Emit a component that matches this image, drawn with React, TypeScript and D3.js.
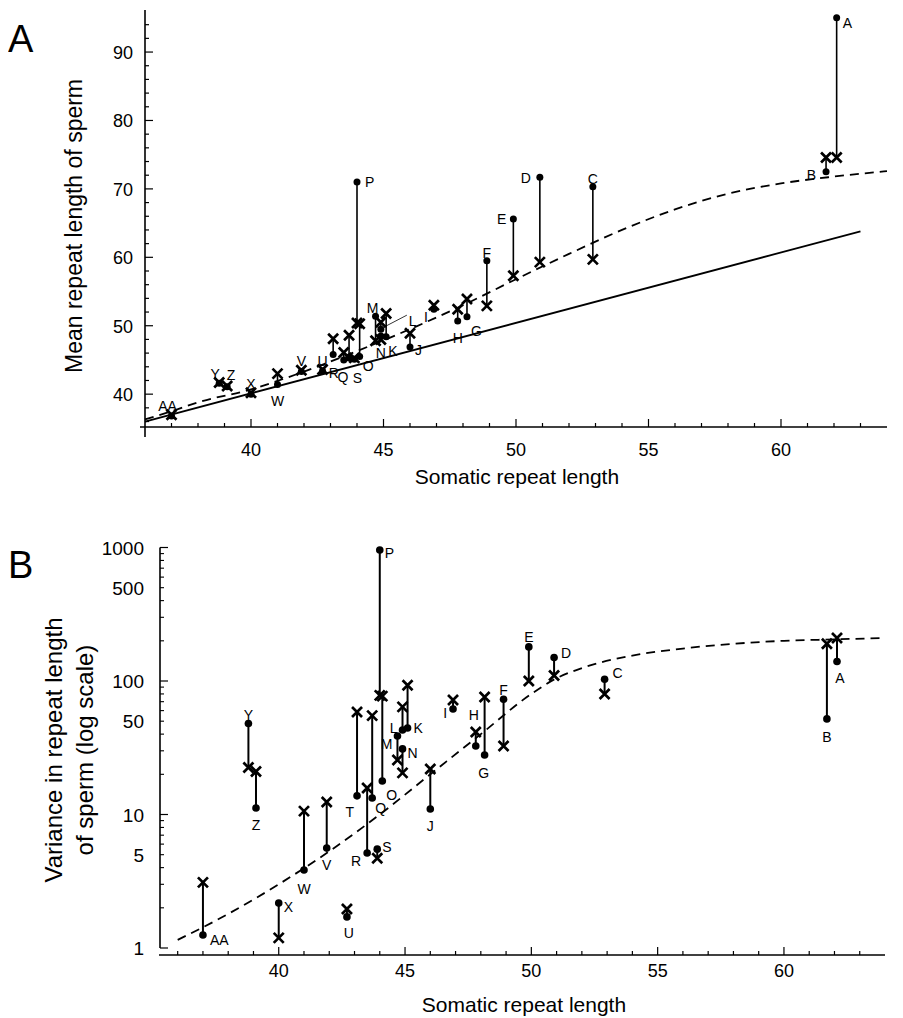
import React from 'react';
import * as d3 from 'd3';

// subject codes, same order in both panels
const subjects = ['A', 'B', 'C', 'D', 'E', 'F', 'G', 'H', 'I', 'J', 'K', 'L', 'M', 'N', 'O', 'P', 'Q', 'R', 'S', 'T', 'U', 'V', 'W', 'X', 'Y', 'Z', 'AA'];
const somatic = [62.1, 61.7, 52.9, 50.9, 49.9, 48.9, 48.15, 47.8, 46.9, 46.0, 45.1, 44.9, 44.7, 44.9, 44.1, 44.0, 43.7, 43.5, 43.9, 43.1, 42.7, 41.9, 41.0, 40.0, 38.8, 39.1, 37.0];

// panel A: mean repeat length of sperm (dot = observed, cross = predicted)
const meanObserved = [95.0, 72.5, 70.3, 71.7, 65.6, 59.5, 51.3, 50.7, 52.4, 46.9, 48.4, 49.5, 51.4, 48.5, 45.5, 71.0, 45.3, 45.0, 45.1, 45.8, 43.4, 43.3, 41.4, 40.0, 41.6, 41.1, 36.8];
const meanPredicted = [74.6, 74.6, 59.7, 59.3, 57.3, 52.9, 53.9, 52.4, 53.0, 48.9, 51.8, 50.5, 47.8, 48.0, 50.3, 50.4, 48.6, 46.1, 45.3, 48.1, 43.6, 43.5, 43.0, 40.2, 41.7, 41.2, 37.0];

// panel B: variance of sperm repeat length
const varObserved = [140, 52, 103, 150, 180, 73, 27.9, 32.6, 61.7, 11, 44.5, 43, 38.7, 31, 17.8, 958, 13.3, 5.15, 5.5, 13.8, 1.71, 5.6, 3.84, 2.17, 48, 11.2, 1.25];
const varPredicted = [210, 190, 80, 110, 100, 32.6, 75.9, 41.5, 72, 21.9, 93, 64, 25.6, 20.5, 77, 78, 55, 15.8, 4.7, 58.6, 1.96, 12.4, 10.6, 1.19, 22.5, 21, 3.1];

// model curves
const curveAx = [36, 37, 38, 40, 42, 44, 46, 48, 50, 52, 54, 56, 58, 60, 62, 64];
const curveAy = [36.3, 37.5, 38.8, 40.7, 43.3, 46.3, 49.5, 53.0, 56.8, 60.5, 64.0, 67.0, 69.3, 70.8, 71.8, 72.6];
const curveBx = [36, 38, 40, 42, 44, 46, 48, 50, 51, 52, 54, 56, 58, 60, 62, 64];
const curveBy = [1.15, 1.8, 3.0, 5.3, 10, 20, 40, 80, 105, 125, 155, 175, 190, 200, 205, 210];

const xTicksMajor = [40, 45, 50, 55, 60];
const yTicksA = [40, 50, 60, 70, 80, 90];
const yTicksB = [1, 5, 10, 50, 100, 500, 1000];

type Lab = [number, number, string];
const labelsA: Record<string, Lab> = {
  A: [6, 5, 'start'], B: [-10, 3, 'end'], C: [0, -8, 'middle'], D: [-9, 1, 'end'], E: [-7, 0, 'end'],
  F: [0, -8, 'middle'], G: [4, 14, 'start'], H: [0, 17, 'middle'], I: [-6, 8, 'end'], J: [5, 3, 'start'],
  K: [2, 14, 'start'], L: [28, -8, 'start'], M: [-3, -8, 'middle'], N: [0, 17, 'middle'], O: [3, 9, 'start'],
  P: [8, 0, 'start'], Q: [-6, 19, 'middle'], R: [-10, 13, 'middle'], S: [3, 19, 'middle'],
  U: [0, -10, 'middle'], V: [0, -11, 'middle'], W: [0, 16, 'middle'], X: [0, -10, 'middle'],
  Y: [-4, -9, 'middle'], Z: [4, -12, 'middle'], AA: [-4, -10, 'middle'],
};
const labelsB: Record<string, Lab> = {
  A: [3, 17, 'middle'], B: [0, 18, 'middle'], C: [8, -6, 'start'], D: [7, -4, 'start'], E: [0, -10, 'middle'],
  F: [0, -9, 'middle'], G: [-1, 18, 'middle'], H: [-2, -31, 'middle'], I: [-6, 4, 'end'], J: [0, 17, 'middle'],
  K: [6, 0, 'start'], L: [-5, -2, 'end'], M: [-5, 8, 'end'], N: [5, 4, 'start'], O: [4, 14, 'start'],
  P: [5, 3, 'start'], Q: [3, 10, 'start'], R: [-6, 8, 'end'], S: [5, -2, 'start'], T: [-3, 16, 'end'],
  U: [2, 16, 'middle'], V: [0, 17, 'middle'], W: [0, 19, 'middle'], X: [5, 4, 'start'], Y: [0, -9, 'middle'],
  Z: [0, 17, 'middle'], AA: [7, 5, 'start'],
};

const font = '"Liberation Sans", Arial, Helvetica, sans-serif';

const Cross = ({ x, y }: { x: number; y: number }) => (
  <path d={`M${x - 5},${y - 5}L${x + 5},${y + 5}M${x - 5},${y + 5}L${x + 5},${y - 5}`} stroke="#000" strokeWidth={2.7} />
);

export default function App() {
  // panel A scales
  const xA = d3.scaleLinear().domain([36, 64]).range([145, 887]);
  const yA = d3.scaleLinear().domain([35.2, 96]).range([427, 11]);
  // panel B scales
  const xB = d3.scaleLinear().domain([35.3, 64]).range([160, 885]);
  const yB = d3.scaleLog().domain([1, 1000]).range([948, 547.5]);

  const lineA = d3.line<number>().x((d, i) => xA(curveAx[i])).y(d => yA(d)).curve(d3.curveMonotoneX);
  const lineB = d3.line<number>().x((d, i) => xB(curveBx[i])).y(d => yB(d)).curve(d3.curveMonotoneX);

  const intTicksA = d3.range(37, 64);
  const intTicksB = d3.range(36, 64);
  const minorA = d3.range(36, 96, 2).filter(v => v > 35.2);
  const minorB: number[] = [];
  [1, 10, 100].forEach(dec => d3.range(2, 10).forEach(m => minorB.push(dec * m)));

  return (
    <svg width={887} height={1018} style={{ display: 'block', margin: '-8px 0 0 -8px', background: '#fff' }} fontFamily={font}>
      {/* ---------- Panel A ---------- */}
      <text x={8} y={52} fontSize={38}>A</text>
      <line x1={145} x2={145} y1={10} y2={437} stroke="#000" strokeWidth={1.6} />
      <line x1={140} x2={887} y1={427} y2={427} stroke="#000" strokeWidth={1.6} />
      {intTicksA.map(v => (
        <line key={v} x1={xA(v)} x2={xA(v)} y1={427} y2={427 - (v % 5 === 0 ? 8 : 4)} stroke="#000" strokeWidth={1.2} />
      ))}
      {minorA.map(v => (
        <line key={v} x1={145} x2={145 + (v % 10 === 0 ? 8 : 4)} y1={yA(v)} y2={yA(v)} stroke="#000" strokeWidth={1.2} />
      ))}
      {xTicksMajor.map(v => (
        <text key={v} x={xA(v)} y={456} fontSize={18} textAnchor="middle">{v}</text>
      ))}
      {yTicksA.map(v => (
        <text key={v} x={133} y={yA(v) + 7} fontSize={18} textAnchor="end">{v}</text>
      ))}
      <text x={517} y={484} fontSize={21} textAnchor="middle">Somatic repeat length</text>
      <text transform="translate(82,226) rotate(-90)" fontSize={23} textAnchor="middle">Mean repeat length of sperm</text>

      {/* identity line and model */}
      <line x1={xA(36)} y1={yA(36)} x2={xA(63)} y2={yA(63.8)} stroke="#000" strokeWidth={1.8} />
      <path d={lineA(curveAy) ?? ''} fill="none" stroke="#000" strokeWidth={1.8} strokeDasharray="9,6" />

      {subjects.map((s, i) => {
        const cx = xA(somatic[i]);
        const yo = yA(meanObserved[i]);
        const yp = yA(meanPredicted[i]);
        const lab = labelsA[s];
        return (
          <g key={s}>
            <line x1={cx} x2={cx} y1={yo} y2={yp} stroke="#000" strokeWidth={1.6} />
            <circle cx={cx} cy={yo} r={3.5} fill="#000" />
            <Cross x={cx} y={yp} />
            {lab && <text x={cx + lab[0]} y={yo + lab[1] + 5} fontSize={14} textAnchor={lab[2] as any}>{s}</text>}
            {s === 'L' && <line x1={cx + 3} y1={yo - 2} x2={cx + 26} y2={yo - 14} stroke="#000" strokeWidth={0.8} />}
          </g>
        );
      })}

      {/* ---------- Panel B ---------- */}
      <text x={8} y={578} fontSize={38}>B</text>
      <line x1={160} x2={160} y1={yB(1000)} y2={yB(1)} stroke="#000" strokeWidth={1.6} />
      <line x1={159} x2={885} y1={955} y2={955} stroke="#000" strokeWidth={1.6} />
      {intTicksB.map(v => (
        <line key={v} x1={xB(v)} x2={xB(v)} y1={955} y2={955 - (v % 5 === 0 ? 8 : 4)} stroke="#000" strokeWidth={1.2} />
      ))}
      {minorB.map(v => (
        <line key={v} x1={160} x2={164} y1={yB(v)} y2={yB(v)} stroke="#000" strokeWidth={1.1} />
      ))}
      {[1, 10, 100, 1000].map(v => (
        <line key={v} x1={160} x2={168} y1={yB(v)} y2={yB(v)} stroke="#000" strokeWidth={1.2} />
      ))}
      {xTicksMajor.map(v => (
        <text key={v} x={xB(v)} y={977} fontSize={18} textAnchor="middle">{v}</text>
      ))}
      {yTicksB.map(v => (
        <text key={v} x={144} y={yB(v) + 7} fontSize={19} textAnchor="end">{v}</text>
      ))}
      <text x={524} y={1012} fontSize={21} textAnchor="middle">Somatic repeat length</text>
      <text transform="translate(62,750) rotate(-90)" fontSize={24} textAnchor="middle">Variance in repeat length</text>
      <text transform="translate(93,750) rotate(-90)" fontSize={24} textAnchor="middle">of sperm (log scale)</text>

      <path d={lineB(curveBy) ?? ''} fill="none" stroke="#000" strokeWidth={1.8} strokeDasharray="9,6" />

      {subjects.map((s, i) => {
        const cx = xB(somatic[i]);
        const yo = yB(varObserved[i]);
        const yp = yB(varPredicted[i]);
        const lab = labelsB[s];
        return (
          <g key={s}>
            <line x1={cx} x2={cx} y1={yo} y2={yp} stroke="#000" strokeWidth={2} />
            <circle cx={cx} cy={yo} r={3.8} fill="#000" />
            <Cross x={cx} y={yp} />
            {lab && <text x={cx + lab[0]} y={yo + lab[1] + 5} fontSize={14} textAnchor={lab[2] as any}>{s}</text>}
          </g>
        );
      })}
    </svg>
  );
}
